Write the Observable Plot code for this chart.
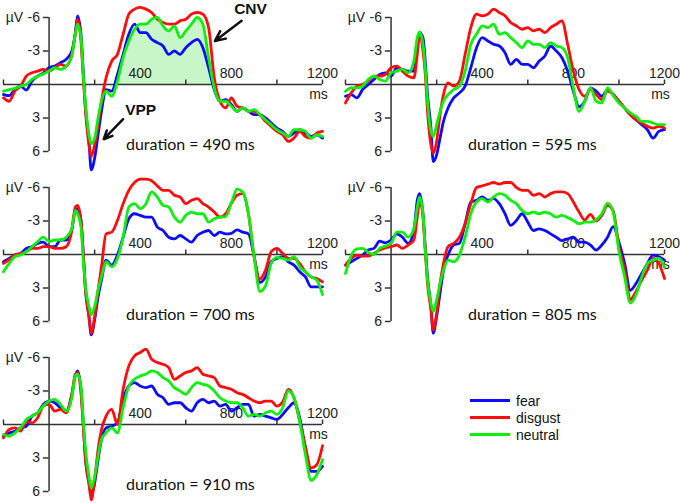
<!DOCTYPE html>
<html>
<head>
<meta charset="utf-8">
<script src="https://cdn.jsdelivr.net/npm/d3@7"></script>
<script src="https://cdn.jsdelivr.net/npm/@observablehq/plot@0.6"></script>
<style>
  body { margin: 0; background: #fff; }
  #wrap { position: relative; width: 680px; height: 503px; background: #fff; overflow: hidden; }
  .panel { position: absolute; }
  #legend { position: absolute; left: 470px; top: 392px; font-family: "Liberation Sans", Arial, sans-serif; font-size: 14px; color: #111; }
  #legend .row { display: flex; align-items: center; height: 17px; }
  #legend .sw { width: 40px; height: 3px; margin-right: 6px; }
</style>
</head>
<body>
<div id="wrap"></div>
<script>
// ---------- data ----------
const T = [-200,-175,-150,-125,-100,-75,-50,-25,0,25,50,75,100,115,125,140,150,160,175,185,200,215,230,
  250,275,300,325,350,375,400,425,450,475,500,525,550,575,600,625,650,675,700,725,750,775,800,825,850,875,900,
  925,950,975,1000,1025,1050,1075,1100,1125,1150,1175,1200];

const conditions = ["fear", "disgust", "neutral"];
const colors = ["#0c0cff", "#ff0c0c", "#0cf00c"];

const durations = ["duration = 490 ms", "duration = 595 ms", "duration = 700 ms", "duration = 805 ms", "duration = 910 ms"];

// panel 1 (490 ms)
const p1Fear = [0.9,1.0,0.45,0.15,0.5,-0.3,-0.75,-1.05,-1.5,-1.65,-1.95,-2.25,-3.0,-4.6,-6.15,-4.5,-1.2,2.1,5.1,7.65,6.6,4.5,2.4,
  0.45,0.6,-0.9,-2.7,-4.5,-5.4,-4.65,-4.65,-4.05,-3.75,-3.45,-2.7,-3.0,-2.7,-3.3,-3.75,-4.05,-3.3,-1.5,0.45,1.5,1.35,1.8,2.4,2.1,2.4,2.7,
  2.7,3.0,3.45,3.9,4.2,4.65,4.35,4.05,4.35,4.65,4.5,4.8];
const p1Disgust = [1.2,1.5,0.6,0.15,-0.75,-1.05,-1.2,-1.35,-1.2,-1.5,-1.8,-1.65,-2.7,-4.5,-5.85,-3.9,-0.6,2.4,5.4,6.45,5.4,3.6,1.5,
  -0.6,-2.1,-2.7,-4.5,-6.3,-6.75,-6.9,-6.75,-6.45,-5.85,-5.55,-5.4,-5.4,-5.7,-5.85,-6.3,-6.45,-6.3,-5.1,-0.6,1.5,2.1,1.2,1.95,2.1,2.4,2.4,
  2.7,3.3,3.75,4.2,4.5,5.1,4.8,4.2,4.65,4.8,4.35,4.2];
const p1Neutral = [0.6,0.45,0.35,0.15,0,-0.45,-0.75,-0.95,-1.2,-1.5,-1.35,-1.65,-2.55,-4.5,-5.4,-4.2,-0.9,1.8,4.5,5.3,4.8,3.0,1.5,
  0.6,1.05,-0.3,-2.4,-3.9,-4.95,-5.4,-5.4,-5.85,-6.0,-5.25,-4.8,-5.25,-4.2,-4.8,-5.4,-6.0,-5.4,-2.4,0.3,1.5,1.5,1.95,2.4,2.1,2.4,2.25,
  2.7,3.15,3.6,4.05,4.35,4.65,4.05,4.05,4.2,4.8,4.5,4.65];

// panel 2 (595 ms)
const p2Fear = [1.05,0.9,1.2,0.45,0,-0.45,-0.9,-1.05,-0.75,-1.5,-1.35,-1.2,-1.2,-3.5,-4.65,-4.2,-2.1,0.9,3.9,6.9,6.3,4.8,3.3,
  2.1,1.2,0.75,0.15,-1.5,-3.3,-4.2,-3.9,-3.6,-3.45,-2.85,-1.8,-2.25,-1.8,-1.8,-1.5,-2.1,-2.55,-3.45,-3.0,-2.4,-1.2,0.6,2.0,1.5,0.3,0.6,
  1.05,0.5,0.9,1.5,2.1,2.7,3.15,3.6,4.05,4.8,4.2,4.05];
const p2Disgust = [1.65,0.75,0.15,0,-0.3,-0.75,-0.75,-0.9,-1.5,-1.65,-1.2,-0.75,-0.6,-2.7,-4.5,-3.0,-1.0,2.4,5.4,6.15,5.1,2.7,0.9,
  -0.15,0.15,-0.3,-2.7,-5.1,-6.3,-6.15,-6.3,-6.75,-6.45,-6.15,-5.55,-5.25,-4.95,-5.1,-4.8,-4.95,-4.65,-5.1,-5.4,-5.7,-3.6,-1.2,0.45,1.05,0.45,0.9,
  1.35,0.6,0.9,1.5,2.1,2.7,3.15,3.45,3.75,3.9,3.75,3.9];
const p2Neutral = [0.6,0.3,0.3,0.15,-0.45,-0.75,-0.45,-0.3,-1.05,-1.2,-1.35,-1.05,-2.1,-4.2,-4.7,-3.6,-1.5,1.5,4.2,4.65,3.6,2.4,1.5,
  0.9,0.45,0.15,-1.2,-3.6,-4.5,-5.25,-5.1,-5.4,-4.5,-4.65,-4.2,-3.75,-3.3,-3.9,-3.6,-3.6,-3.3,-3.75,-3.45,-3.3,-2.4,0.3,2.4,1.5,0.3,1.5,
  1.65,0.3,1.0,1.65,2.1,2.55,2.85,3.3,3.3,3.45,3.6,3.6];

// panel 3 (700 ms)
const p3Fear = [0.65,0.35,0.05,-0.1,-0.55,-0.7,-1.0,-1.1,-0.7,-0.7,-1.3,-1.3,-2.3,-3.95,-4.1,-3.05,-0.1,3.2,5.55,7.2,5.85,3.8,2.3,
  0.5,0.95,0.05,-1.55,-3.2,-3.65,-3.5,-3.35,-3.35,-2.45,-2.15,-1.55,-1.4,-1.7,-1.4,-1.1,-1.7,-2.0,-2.15,-1.7,-2.0,-1.85,-1.9,-2.2,-2.0,-1.85,0.2,
  2.5,2.0,0.65,0.35,0.2,0.65,0.95,1.55,2.0,2.9,2.9,2.9];
const p3Disgust = [0.8,0.45,0.05,-0.1,-0.25,-0.55,-0.55,-0.7,-0.7,-0.55,-0.55,-0.7,-2.15,-4.25,-4.4,-3.05,-0.1,3.2,5.55,7.05,5.55,3.2,1.1,
  -1.85,-2.0,-3.05,-4.55,-5.75,-6.45,-6.75,-6.75,-6.6,-6.15,-5.75,-5.75,-5.3,-5.15,-4.55,-4.85,-5.0,-4.55,-4.25,-3.8,-3.35,-3.65,-4.6,-5.3,-5.45,-3.65,0.2,
  2.2,1.4,-0.25,-0.55,-0.1,0.35,0.35,0.8,1.55,2.0,2.15,2.45];
const p3Neutral = [1.55,0.8,0.2,0.05,-0.25,-0.7,-1.15,-1.55,-1.15,-1.3,-1.3,-1.55,-2.3,-3.95,-3.65,-2.45,0.5,2.9,4.65,5.4,4.65,3.2,2.0,
  0.65,1.1,0.35,-1.55,-4.25,-4.55,-4.1,-4.55,-5.6,-5.15,-4.4,-4.25,-3.35,-2.9,-3.5,-3.8,-3.65,-3.65,-2.9,-3.2,-3.35,-3.4,-4.6,-5.85,-5.6,-3.65,0.2,
  3.3,2.8,0.8,0.25,0.35,0.5,0.2,1.1,1.55,2.0,2.3,3.6];

// panel 4 (805 ms)
const p4Fear = [0.95,0.65,0.35,0.05,-0.4,-0.55,-1.2,-1.05,-1.3,-1.85,-1.55,-1.0,-2.15,-4.85,-5.45,-3.65,-0.7,2.0,4.65,7.05,5.55,3.45,1.4,
  0.05,-0.85,-1.0,-2.75,-4.7,-4.85,-5.15,-4.85,-5.0,-4.55,-3.65,-2.6,-3.05,-3.65,-2.9,-2.15,-2.3,-2.15,-1.85,-1.55,-1.25,-1.4,-1.55,-1.1,-1.1,-0.85,-0.4,
  -0.85,-1.55,-2.5,-1.1,0.8,3.2,2.6,1.7,0.8,0.05,0.2,0.5];
const p4Disgust = [0.95,0.35,0.05,0.15,0.15,-0.1,-0.4,-0.6,-0.7,-0.85,-0.55,-0.85,-1.3,-3.35,-4.85,-3.35,-0.4,2.6,4.95,6.75,5.25,2.6,0.8,
  -0.7,-1.0,-1.55,-2.75,-4.55,-6.0,-6.15,-6.3,-6.45,-6.3,-6.45,-6.45,-6.0,-5.75,-5.75,-5.3,-5.45,-5.15,-5.45,-5.6,-5.6,-5.45,-4.7,-3.8,-3.1,-3.6,-3.0,
  -3.5,-4.4,-3.9,-0.7,1.4,4.05,3.3,2.3,1.4,0.35,0.8,2.15];
const p4Neutral = [1.7,0.1,-0.5,-0.55,-0.2,0.0,-0.55,-0.75,-1.0,-2.0,-2.0,-1.55,-2.3,-4.25,-5.15,-3.65,-0.4,2.3,4.35,5.1,4.05,2.6,1.4,
  0.5,0.65,0.05,-1.55,-3.65,-4.7,-5.0,-4.7,-5.15,-5.45,-5.3,-4.85,-4.55,-3.95,-3.65,-3.8,-3.65,-3.8,-3.65,-3.35,-3.5,-3.3,-3.05,-2.75,-2.9,-2.9,-3.1,
  -3.65,-4.6,-3.8,-0.3,2.0,4.35,3.6,2.0,0.8,0.5,0.35,1.1];

// panel 5 (910 ms)
const p5Fear = [1.05,0.75,0.6,0.3,0.15,-0.75,-1.05,-1.8,-2.1,-1.95,-1.5,-1.2,-2.7,-4.35,-4.8,-3.15,-0.15,3.15,5.25,6.3,5.25,3.15,1.35,
  0.3,0.15,-0.15,-2.25,-3.45,-3.75,-3.45,-3.3,-3.45,-2.7,-2.4,-1.8,-1.95,-1.95,-1.5,-1.2,-1.95,-2.25,-1.95,-2.1,-1.65,-1.8,-1.2,-1.5,-1.8,-1.8,-0.75,
  -0.9,-0.75,-0.6,-0.45,-0.9,-1.5,-1.95,-0.6,2.1,4.2,4.2,3.75];
const p5Disgust = [1.2,0.45,0.3,0.6,-0.3,-0.15,-0.6,-1.65,-1.8,-1.2,-1.35,-1.05,-2.7,-4.5,-4.65,-2.85,0.15,3.15,5.25,6.75,4.95,2.25,0.45,
  -0.75,-1.35,0,-3.15,-5.25,-6.15,-6.45,-6.75,-5.85,-5.55,-5.4,-5.1,-4.05,-4.35,-4.65,-4.8,-5.1,-4.5,-4.35,-4.2,-3.45,-3.3,-3.15,-2.85,-2.7,-2.4,-2.1,
  -1.95,-2.1,-2.1,-1.65,-2.0,-3.15,-2.4,-0.3,2.0,3.9,3.6,1.9];
const p5Neutral = [0.9,1.05,0.75,0.3,-0.45,-0.75,-1.05,-1.65,-2.1,-2.25,-1.8,-1.2,-2.4,-4.35,-4.5,-3.45,-0.45,2.25,4.65,5.7,4.65,2.85,1.35,
  0.75,0.3,0.75,-1.5,-3.45,-4.05,-4.35,-4.5,-4.8,-4.65,-4.2,-3.9,-3.3,-3.0,-2.7,-3.3,-3.75,-3.6,-3.45,-3.0,-2.4,-2.1,-1.95,-1.95,-1.5,-0.75,-0.9,
  -0.75,-1.05,-1.2,-0.9,-1.5,-3.0,-2.4,-0.3,2.7,5.0,4.5,3.15];

const panels = [
  [p1Fear, p1Disgust, p1Neutral],
  [p2Fear, p2Disgust, p2Neutral],
  [p3Fear, p3Disgust, p3Neutral],
  [p4Fear, p4Disgust, p4Neutral],
  [p5Fear, p5Disgust, p5Neutral]
];

const xTicks = [-200, 200, 600, 1000, 1200];
const xTickLabels = [400, 800, 1200];
const yTicks = [-6, -3, 3, 6];
const cnvWindow = [300, 725];

// ---------- layout ----------
const placement = [[0, 0], [342, 0], [0, 170], [342, 170], [0, 340]];
const wrap = document.getElementById("wrap");
const axisColor = "#333";

panels.forEach((series, p) => {
  const marks = [];
  if (p === 0) {
    const inWin = T.map(t => t >= cnvWindow[0] && t <= cnvWindow[1]);
    marks.push(Plot.areaY(series[2], {x: T, y1: 0, y2: series[2].map(v => Math.min(v, 0)), filter: inWin, fill: "#c9f6c9", curve: "monotone-x"}));
  }
  marks.push(
    Plot.ruleY([0], {stroke: axisColor, strokeWidth: 1.5}),
    Plot.ruleX([0], {stroke: axisColor, strokeWidth: 1.5}),
    Plot.ruleX(xTicks, {y1: 0, y2: -0.4, stroke: axisColor, strokeWidth: 1.5}),
    Plot.ruleY(yTicks, {x1: -25, x2: 0, stroke: axisColor, strokeWidth: 1.5}),
    Plot.text(xTickLabels, {x: d => d, y: 0, dy: -11, text: d => String(d), fontSize: 14, fill: "#222"}),
    Plot.text(["ms"], {x: () => 1200, y: () => 0, dx: -4, dy: 10, fontSize: 14, fill: "#222"}),
    Plot.text(yTicks, {x: () => 0, y: d => d, dx: -9, textAnchor: "end", text: d => String(d), fontSize: 14, fill: "#222"}),
    Plot.text(["µV"], {x: () => 0, y: () => -6, dx: -26, textAnchor: "end", fontSize: 14, fill: "#222"})
  );
  series.forEach((vals, k) => {
    marks.push(Plot.lineY(vals, {x: T, stroke: colors[k], strokeWidth: 2.8, curve: "monotone-x"}));
  });
  marks.push(Plot.text([durations[p]], {x: () => 620, y: () => 5.45, fontSize: 16, fontFamily: "Lato, 'Open Sans', sans-serif", fill: "#111"}));
  if (p === 0) {
    marks.push(
      Plot.arrow([0], {x1: () => 845, y1: () => -5.7, x2: () => 728, y2: () => -3.9, stroke: "#111", strokeWidth: 2.5, headLength: 9, headAngle: 50}),
      Plot.text(["CNV"], {x: () => 884, y: () => -6.75, fontWeight: "bold", fontSize: 15.5, fill: "#111"}),
      Plot.arrow([0], {x1: () => 325, y1: () => 3.1, x2: () => 240, y2: () => 4.9, stroke: "#111", strokeWidth: 2.5, headLength: 9, headAngle: 50}),
      Plot.text(["VPP"], {x: () => 402, y: () => 2.3, fontWeight: "bold", fontSize: 15.5, fill: "#111"})
    );
  }
  const chart = Plot.plot({
    width: 340, height: 170,
    marginLeft: 3, marginRight: 18, marginTop: 17, marginBottom: 19,
    x: {domain: [-200, 1200], axis: null},
    y: {domain: [-6, 6], reverse: true, axis: null},
    style: {overflow: "visible", background: "transparent", fontFamily: "'Liberation Sans', Arial, sans-serif", fontSize: "14px"},
    marks
  });
  chart.classList.add("panel");
  chart.style.left = placement[p][0] + "px";
  chart.style.top = placement[p][1] + "px";
  chart.style.position = "absolute";
  wrap.appendChild(chart);
});

// legend
const legend = document.createElement("div");
legend.id = "legend";
conditions.forEach((c, k) => {
  const row = document.createElement("div");
  row.className = "row";
  const sw = document.createElement("span");
  sw.className = "sw";
  sw.style.background = colors[k];
  const lab = document.createElement("span");
  lab.textContent = c;
  row.appendChild(sw);
  row.appendChild(lab);
  legend.appendChild(row);
});
wrap.appendChild(legend);
</script>
</body>
</html>
